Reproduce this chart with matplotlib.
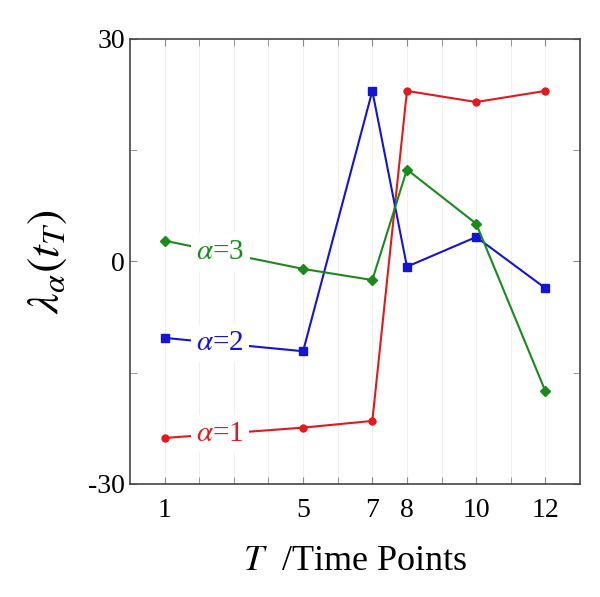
import numpy as np
import matplotlib
matplotlib.use("Agg")
import matplotlib.pyplot as plt
from matplotlib.ticker import FixedLocator

plt.rcParams['font.family'] = ['Liberation Serif', 'DejaVu Serif']
plt.rcParams['mathtext.fontset'] = 'stix'
plt.rcParams['axes.unicode_minus'] = False

x = [1, 5, 7, 8, 10, 12]
alpha1 = [-23.8, -22.4, -21.5, 23.0, 21.5, 23.0]
alpha2 = [-10.3, -12.1, 23.0, -0.7, 3.3, -3.6]
alpha3 = [2.8, -1.0, -2.5, 12.4, 5.1, -17.5]
labels = ['1', '2', '3']
xticks = [1, 5, 7, 8, 10, 12]
yticks = [-30, 0, 30]

fig = plt.figure(figsize=(6.0, 5.97), dpi=100)
ax = fig.add_axes([0.2167, 0.1893, 0.75, 0.7454])

series = [(alpha1, '#e31a1c', 'o', 5), (alpha2, '#1414d4', 's', 5.5), (alpha3, '#1a8a1a', 'D', 5)]
for (vals, col, mk, ms), lab in zip(series, labels):
    ax.plot(x, vals, color=col, marker=mk, markersize=ms, linewidth=1.5, zorder=3)
    lx = 2.6
    ly = np.interp(lx, x[:2], vals[:2])
    ax.text(lx, ly, r'$\alpha$=' + lab, color=col, fontsize=21, ha='center', va='center',
            zorder=4, bbox=dict(facecolor='white', edgecolor='none', pad=4))

ax.set_xlim(0, 13)
ax.set_ylim(-30, 30)
ax.xaxis.set_major_locator(FixedLocator(xticks))
ax.xaxis.set_minor_locator(FixedLocator(list(range(1, 13))))
ax.yaxis.set_major_locator(FixedLocator(yticks))
ax.yaxis.set_minor_locator(FixedLocator([-15, 15]))
for xv in range(1, 13):
    ax.axvline(xv, color='#f0f0f0', linewidth=0.8, zorder=0)
ax.tick_params(which='both', direction='in', top=True, right=True, labelsize=20, color='#888888')
ax.tick_params(which='major', length=5)
ax.tick_params(which='minor', length=5)
ax.tick_params(axis='x', pad=10)
for s in ax.spines.values():
    s.set_color('#444444')
    s.set_linewidth(1.2)

ax.set_xlabel(r'$T$  /Time Points', fontsize=26, labelpad=16)
ax.set_ylabel(r'$\lambda_\alpha(t_T)$', fontsize=33, labelpad=14)

fig.savefig('out.png', dpi=100)
